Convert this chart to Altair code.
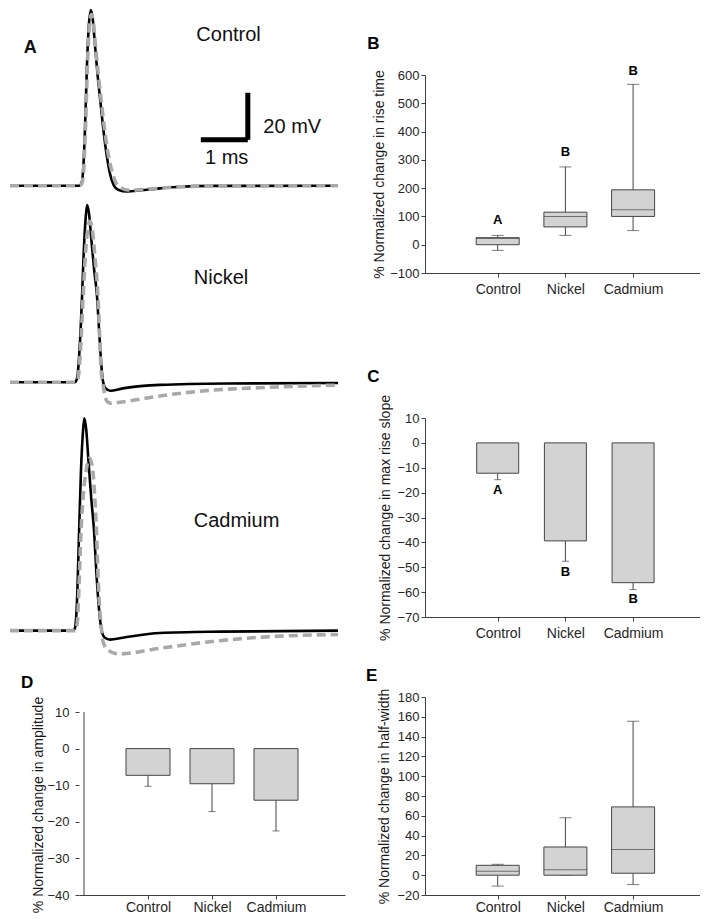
import altair as alt
import pandas as pd

FONT = "Liberation Sans"
AX = "#404040"
LINE = "#454545"
BOXF = "#d3d3d3"
GRAY = "#a9a9a9"

CATS = ["Control", "Nickel", "Cadmium"]
POS = [1, 2, 3]

# ---------------- Panel A: action potential traces (ms, mV re baseline) ----
CB_T = [0, 1.47, 1.52, 1.56, 1.60, 1.64, 1.68, 1.72, 1.76, 1.81, 1.86, 1.91, 1.97, 2.04, 2.12, 2.20, 2.30, 2.49, 2.80, 3.19, 3.60, 4.30, 6.98]
CB_V = [0, 0, 1, 8, 28, 55, 72, 78, 74, 62, 50, 40, 28, 16, 6, 0.5, -1.8, -2.6, -2.0, -1.2, -0.5, -0.1, 0]
CG_T = [0, 1.48, 1.53, 1.57, 1.61, 1.65, 1.69, 1.73, 1.77, 1.82, 1.88, 1.94, 2.00, 2.08, 2.16, 2.25, 2.35, 2.55, 2.90, 3.40, 4.30, 6.98]
CG_V = [0, 0, 1, 8, 28, 55, 71, 76, 73, 62, 49, 38, 27, 15, 7, 1.5, -0.8, -2.0, -1.6, -0.8, -0.1, 0]

NB_T = [0, 1.38, 1.43, 1.48, 1.53, 1.57, 1.61, 1.64, 1.68, 1.73, 1.79, 1.85, 1.89, 1.93, 1.97, 2.03, 2.13, 2.40, 3.19, 4.62, 6.98]
NB_V = [0, 0, 2, 14, 35, 56, 70, 75.4, 72, 61, 48, 37, 24, 11, 1.5, -2.5, -3.6, -2.6, -1.1, -0.5, -0.3]
NG_T = [0, 1.40, 1.45, 1.50, 1.56, 1.61, 1.66, 1.70, 1.75, 1.80, 1.87, 1.94, 1.98, 2.06, 2.13, 2.30, 3.19, 4.26, 5.32, 6.74, 6.98]
NG_V = [0, 0, 2, 14, 38, 56, 66, 68.5, 65, 55, 37, 5, -1, -8, -8.9, -8.6, -5.8, -3.4, -2.3, -1.3, -1.2]

KB_T = [0, 1.34, 1.38, 1.42, 1.47, 1.51, 1.55, 1.58, 1.62, 1.67, 1.73, 1.79, 1.84, 1.89, 1.95, 2.02, 2.13, 2.40, 3.19, 4.50, 6.98]
KB_V = [0, 0, 1, 10, 42, 68, 84, 90.4, 86, 72, 56, 42, 24, 10, 0, -3, -3.8, -3.0, -1.0, -0.4, 0]
KG_T = [0, 1.38, 1.43, 1.47, 1.51, 1.56, 1.62, 1.69, 1.75, 1.80, 1.84, 1.87, 1.90, 1.94, 1.98, 2.10, 2.30, 3.19, 4.26, 5.32, 6.74, 6.98]
KG_V = [0, 0, 3, 20, 42, 58, 68, 73.4, 70, 58, 42, 25, 12, 2, -4.8, -8.5, -9.9, -7.5, -4.7, -2.8, -1.7, -1.6]

# scale bar: 1 ms x 20 mV
SB_T = [4.06, 5.06]
SB_V = [103.2, 123.2]

# text labels in panel A (time ms, mV in the trace's own frame)
A_CTRL_TXT = ["Control"]; A_CTRL_TT = [4.65]; A_CTRL_TV = [67.0]
A_LET = ["A"]; A_LET_T = [0.43]; A_LET_V = [61.3]
A_NI_TXT = ["Nickel", "1 ms"]; A_NI_TT = [4.49, 4.61]; A_NI_TV = [44.4, 95.3]
A_MV_TXT = ["20 mV"]; A_MV_TT = [5.39]; A_MV_TV = [108.8]
A_CD_TXT = ["Cadmium"]; A_CD_TT = [4.82]; A_CD_TV = [46.8]

# ---------------- Panel B: rise time (box plot) ----------------
B_MIN = [-20, 33, 50]
B_Q1 = [0, 63, 100]
B_MED = [22, 100, 124]
B_Q3 = [25, 115, 194]
B_MAX = [33, 275, 567]
B_LET = ["A", "B", "B"]
B_LET_Y = [86, 327, 615]

# ---------------- Panel C: max rise slope (mean, error) -----------
C_MEAN = [-12.2, -39.4, -56.2]
C_ERR = [-14.8, -47.6, -59.0]
C_LET = ["A", "B", "B"]
C_LET_Y = [-18.9, -52.0, -62.8]

# ---------------- Panel D: amplitude (mean, error) ---------------
D_MEAN = [-7.3, -9.6, -14.1]
D_ERR = [-10.3, -17.2, -22.5]
D_AXIS = [-40, 10]

# ---------------- Panel E: half-width (box plot) ------------------
E_MIN = [-11, 0, -9.5]
E_Q1 = [0, 0, 2]
E_MED = [4, 5.5, 26]
E_Q3 = [10, 28.5, 69]
E_MAX = [11, 58, 155.5]

LBL = "[" + ",".join("'%s'" % c for c in CATS) + "][datum.value - 1]"

# ======================= Panel A chart =======================
T_DOM = [1.468, 8.83]
WA, HA = 346, 198
xA = alt.X("t:Q", scale=alt.Scale(domain=T_DOM, nice=False, zero=False), axis=None)


def yA(dom):
    return alt.Y("v:Q", scale=alt.Scale(domain=dom, nice=False, zero=False), axis=None)


def trace(t, v, dom, gray):
    df = pd.DataFrame({"t": t, "v": v})
    if gray:
        m = alt.Chart(df).mark_line(color=GRAY, strokeWidth=3.6, strokeDash=[9, 5], strokeJoin="round",
                                    interpolate="monotone", clip=False)
    else:
        m = alt.Chart(df).mark_line(color="black", strokeWidth=2.6, strokeJoin="round",
                                    interpolate="monotone", clip=False)
    return m.encode(x=xA, y=yA(dom))


def labels(txt, tt, tv, dom, size=20, weight="normal", align="center"):
    df = pd.DataFrame({"t": tt, "v": tv, "s": txt})
    return alt.Chart(df).mark_text(font=FONT, fontSize=size, fontWeight=weight, align=align,
                                   baseline="middle", color="#111111", clip=False).encode(
        x=xA, y=yA(dom), text="s:N")


DOM_C = [-38.76, 49.14]
DOM_N = [46.51, 130.77]
DOM_K = [152.21, 236.47]

ctrl = alt.layer(
    trace(CB_T, CB_V, DOM_C, False),
    trace(CG_T, CG_V, DOM_C, True),
    labels(A_CTRL_TXT, A_CTRL_TT, A_CTRL_TV, DOM_C),
    labels(A_LET, A_LET_T, A_LET_V, DOM_C, size=18, weight="bold"),
)

sb_df = pd.DataFrame({"t0": [SB_T[0]], "t1": [SB_T[1]], "v0": [SB_V[0]], "v1": [SB_V[1]]})
sb_h = alt.Chart(sb_df).mark_rule(color="black", strokeWidth=5, clip=False).encode(
    x=alt.X("t0:Q", scale=alt.Scale(domain=T_DOM, nice=False, zero=False), axis=None), x2="t1:Q",
    y=alt.Y("v0:Q", scale=alt.Scale(domain=DOM_N, nice=False, zero=False), axis=None))
sb_v = alt.Chart(sb_df).mark_rule(color="black", strokeWidth=5, clip=False).encode(
    x=alt.X("t1:Q", scale=alt.Scale(domain=T_DOM, nice=False, zero=False), axis=None),
    y=alt.Y("v0:Q", scale=alt.Scale(domain=DOM_N, nice=False, zero=False), axis=None), y2="v1:Q")

nick = alt.layer(
    trace(NB_T, NB_V, DOM_N, False),
    trace(NG_T, NG_V, DOM_N, True),
    labels(A_NI_TXT, A_NI_TT, A_NI_TV, DOM_N),
    labels(A_MV_TXT, A_MV_TT, A_MV_TV, DOM_N, align="left"),
    sb_h, sb_v,
)

cad = alt.layer(
    trace(KB_T, KB_V, DOM_K, False),
    trace(KG_T, KG_V, DOM_K, True),
    labels(A_CD_TXT, A_CD_TT, A_CD_TV, DOM_K),
)

panelA = alt.layer(ctrl, nick, cad).resolve_scale(y="independent").properties(width=WA, height=HA)

# ======================= right-hand panels =======================
WR = 275
XR_MAX = WR / 70.25


def xaxis(maxv, pad):
    return alt.X("pos:Q", scale=alt.Scale(domain=[0, maxv], nice=False, zero=False),
                 axis=alt.Axis(values=POS, labelExpr=LBL, title=None, labelFontSize=14,
                               tickSize=4, labelPadding=pad))


def yaxis(field, title, dom, values, tpad, lpad=2, **kw):
    return alt.Y(field, scale=alt.Scale(domain=dom, nice=False, zero=False),
                 axis=alt.Axis(title=title, values=values, tickSize=4, labelPadding=lpad,
                               titlePadding=tpad, **kw))


def letter_title(letter, dx, offset):
    return alt.TitleParams(letter, anchor="start", frame="group", dx=dx, offset=offset,
                           fontSize=17, fontWeight="bold", font=FONT, color="black",
                           baseline="alphabetic")


def box_chart(df, title, dom, values, tpad, xpad):
    base = alt.Chart(df).encode(x=xaxis(XR_MAX, xpad))
    ya = lambda f: yaxis(f, title, dom, values, tpad)
    w1 = base.mark_rule(color=LINE).encode(y=ya("lo:Q"), y2="q1:Q")
    w2 = base.mark_rule(color=LINE).encode(y=ya("q3:Q"), y2="hi:Q")
    c1 = base.mark_tick(orient="horizontal", size=12, thickness=1, color=LINE).encode(y=ya("lo:Q"))
    c2 = base.mark_tick(orient="horizontal", size=12, thickness=1, color=LINE).encode(y=ya("hi:Q"))
    box = base.mark_bar(size=43, fill=BOXF, stroke=LINE, strokeWidth=1).encode(y=ya("q1:Q"), y2="q3:Q")
    med = base.mark_tick(orient="horizontal", size=43, thickness=1, color=LINE).encode(y=ya("med:Q"))
    layers = [w1, w2, c1, c2, box, med]
    if "let" in df.columns:
        layers.append(base.mark_text(font=FONT, fontSize=13, fontWeight="bold", color="black",
                                     baseline="middle").encode(y=ya("let_y:Q"), text="let:N"))
    return layers


dfB = pd.DataFrame({"pos": POS, "lo": B_MIN, "q1": B_Q1, "med": B_MED, "q3": B_Q3,
                    "hi": B_MAX, "let": B_LET, "let_y": B_LET_Y})
panelB = alt.layer(*box_chart(dfB, "% Normalized change in rise time", [-100, 600],
                              list(range(-100, 601, 100)), 3, 5)).properties(
    width=WR, height=198, title=letter_title("B", -57.7, -1.2))

dfE = pd.DataFrame({"pos": POS, "lo": E_MIN, "q1": E_Q1, "med": E_MED, "q3": E_Q3, "hi": E_MAX})
panelE = alt.layer(*box_chart(dfE, "% Normalized change in half-width", [-20, 180],
                              list(range(-20, 181, 20)), 5, 1)).properties(
    width=WR, height=198, title=letter_title("E", -59, -10.0))

# C bar chart
dfC = pd.DataFrame({"pos": POS, "mean": C_MEAN, "err": C_ERR, "let": C_LET, "let_y": C_LET_Y})
baseC = alt.Chart(dfC).encode(x=xaxis(XR_MAX, 5))
yC = lambda f: yaxis(f, "% Normalized change in max rise slope", [-70, 10], list(range(-70, 11, 10)), 4)
panelC = alt.layer(
    baseC.mark_rule(color=LINE).encode(y=yC("mean:Q"), y2="err:Q"),
    baseC.mark_tick(orient="horizontal", size=7, thickness=1, color=LINE).encode(y=yC("err:Q")),
    baseC.mark_bar(size=42, fill=BOXF, stroke=LINE, strokeWidth=1).encode(y=yC("mean:Q"), y2=alt.datum(0)),
    baseC.mark_text(font=FONT, fontSize=13, fontWeight="bold", color="black", baseline="middle").encode(
        y=yC("let_y:Q"), text="let:N"),
).properties(width=WR, height=199, title=letter_title("C", -57.7, -4.9))

# D bar chart
WD = 266
dfD = pd.DataFrame({"pos": POS, "mean": D_MEAN, "err": D_ERR})
baseD = alt.Chart(dfD).encode(x=xaxis(4, 1))
yD = lambda f: yaxis(f, "% Normalized change in amplitude", [-40, 14.1], list(range(-40, 11, 10)), 1,
                     lpad=6, domain=False, titleY=107.5)
dax = pd.DataFrame({"pos": [0], "lo": [D_AXIS[0]], "hi": [D_AXIS[1]]})
panelD = alt.layer(
    alt.Chart(dax).mark_rule(color=AX).encode(x=xaxis(4, 1), y=yD("lo:Q"), y2="hi:Q"),
    baseD.mark_rule(color=LINE).encode(y=yD("mean:Q"), y2="err:Q"),
    baseD.mark_tick(orient="horizontal", size=7, thickness=1, color=LINE).encode(y=yD("err:Q")),
    baseD.mark_bar(size=44, fill=BOXF, stroke=LINE, strokeWidth=1).encode(y=yD("mean:Q"), y2=alt.datum(0)),
).properties(width=WD, height=198, title=letter_title("D", -58, -8.3))


def spacer(w, h):
    return alt.Chart(pd.DataFrame({"s": [0]})).mark_text().encode(text=alt.value("")).properties(
        width=w, height=h)


chart = alt.concat(
    panelA, panelB,
    spacer(1, 1), spacer(1, 145),
    spacer(1, 1), panelC,
    spacer(1, 1), spacer(1, 80),
    panelD, panelE,
    columns=2, spacing=0, bounds="flush", align="each",
).properties(padding=0).configure_view(stroke=None).configure_axis(
    labelFont=FONT, titleFont=FONT, labelFontSize=13, titleFontSize=14, titleFontWeight="normal",
    labelColor="#262626", titleColor="#1a1a1a", domainColor=AX, tickColor=AX, grid=False,
)

chart.save("out.html", embed_options={"renderer": "svg", "actions": False})
